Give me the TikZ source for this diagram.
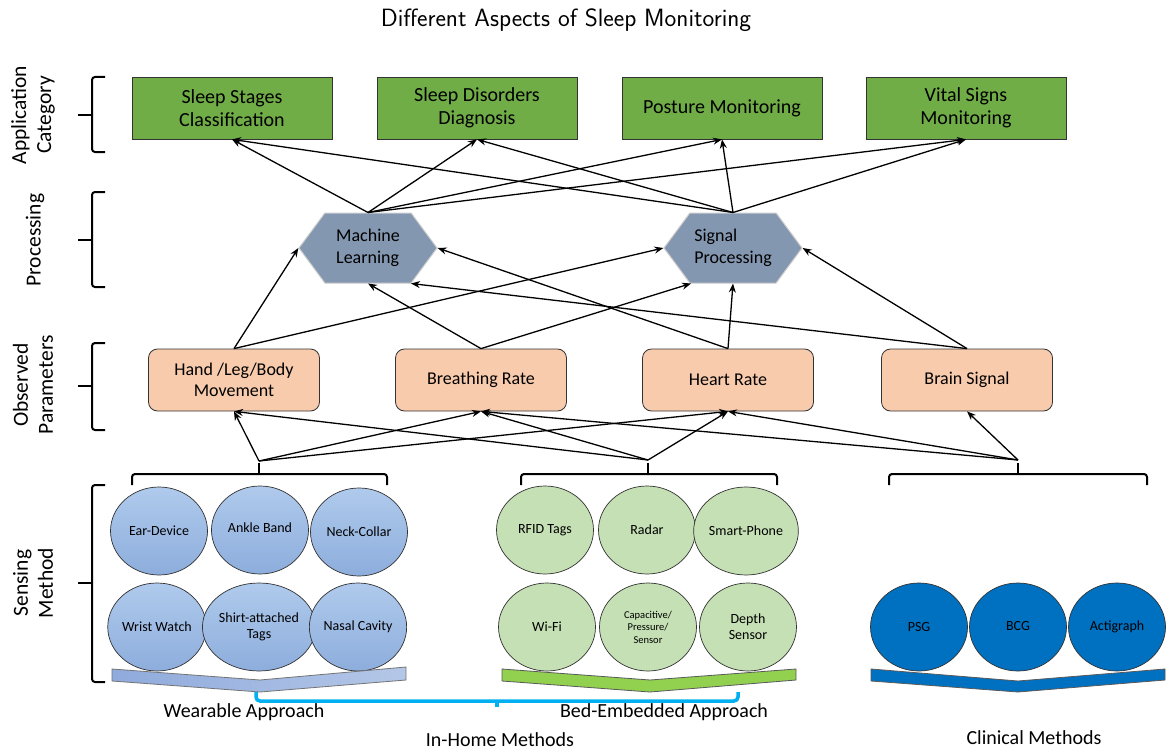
\documentclass[tikz,border=0pt]{standalone}
\usepackage{fontspec}
\setmainfont{Carlito}
\usepackage{xcolor}
\usetikzlibrary{shapes.geometric,shapes.symbols,arrows.meta,calc}

\definecolor{appgreen}{HTML}{70AD47}
\definecolor{paramorange}{HTML}{F8CBAD}
\definecolor{procblue}{HTML}{8497B0}
\definecolor{weartop}{HTML}{AFCAEC}
\definecolor{wearbot}{HTML}{8DADDC}
\definecolor{wearleft}{HTML}{8FAADC}
\definecolor{wearright}{HTML}{B4C7E7}
\definecolor{bedgreen}{HTML}{C5E0B4}
\definecolor{bedbar}{HTML}{92D050}
\definecolor{clinblue}{HTML}{0070C0}
\definecolor{homecyan}{HTML}{00B0F0}

\begin{document}
\begin{tikzpicture}[>={Stealth[length=9pt,width=7pt]},x=1pt,y=-1pt,
  line width=1.3pt,
  app/.style={draw=black!80,line width=0.8pt,fill=appgreen,minimum width=200pt,minimum height=62pt,align=center,font=\fontsize{20}{23.5}\selectfont},
  param/.style={draw=black!80,line width=0.8pt,fill=paramorange,rounded corners=9pt,minimum width=171pt,minimum height=62pt,align=center,font=\fontsize{18}{21.5}\selectfont},
  proc/.style={signal,signal to=west and east,signal pointer angle=107,draw=black!20,line width=1pt,fill=procblue,minimum width=138pt,minimum height=70pt,align=left,font=\fontsize{18}{22}\selectfont},
  sens/.style={ellipse,draw=black!80,line width=0.7pt,minimum width=97pt,minimum height=88pt,inner sep=0pt,align=center,font=\fontsize{14}{16}\selectfont},
  side/.style={rotate=90,align=center,font=\fontsize{21.5}{25}\selectfont},
  brace/.style={line width=2pt,rounded corners=3pt},
  caption/.style={font=\fontsize{20}{24}\selectfont}]

\fill[white] (0,0) rectangle (1170,752);
\useasboundingbox (0,0) rectangle (1170,752);

\node(title) at (566,20)[font=\fontsize{25}{29}\selectfont\sffamily] {Different Aspects of Sleep Monitoring};

% row labels on the left
\node(lapp) at (33,115)[side] {Application\\Category};
\node(lproc) at (35,240)[side] {Processing};
\node(lobs) at (33,385)[side] {Observed\\Parameters};
\node(lsens) at (33,583)[side] {Sensing\\Method};

\draw[brace] (105,77) -- (92,77) -- (92,152) -- (105,152);
\draw[brace] (92,115) -- (78,115);
\draw[brace] (105,192) -- (92,192) -- (92,287) -- (105,287);
\draw[brace] (92,240) -- (78,240);
\draw[brace] (105,343) -- (92,343) -- (92,430) -- (105,430);
\draw[brace] (92,386) -- (78,386);
\draw[brace] (105,485) -- (92,485) -- (92,682) -- (105,682);
\draw[brace] (92,583) -- (78,583);

% application category
\node(ssc) at (232,108)[app] {Sleep Stages\\Classification};
\node(sdd) at (477,108)[app] {Sleep Disorders\\Diagnosis};
\node(pm) at (722,108)[app] {Posture Monitoring};
\node(vs) at (966,108)[app] {Vital Signs\\Monitoring};

% processing
\node(ml) at (368,248)[proc] {Machine\\Learning};
\node(sp) at (733,248)[proc] {Signal\\Processing};

% observed parameters
\node(hand) at (234,380)[param] {Hand /Leg/Body\\Movement};
\node(breath) at (481,380)[param] {Breathing Rate};
\node(heart) at (728,380)[param] {Heart Rate};
\node(brain) at (967,380)[param] {Brain Signal};

% sensing methods
\node(ear) at (159,531)[sens,top color=weartop,bottom color=wearbot] {Ear-Device};
\node(ankle) at (260,530)[sens,top color=weartop,bottom color=wearbot] {\raisebox{4pt}{Ankle Band}};
\node(neck) at (359,532)[sens,top color=weartop,bottom color=wearbot] {Neck-Collar};
\node(wrist) at (157,627)[sens,top color=weartop,bottom color=wearbot] {Wrist Watch};
\node(shirt) at (259,627)[sens,top color=weartop,bottom color=wearbot] {Shirt-attached\\Tags};
\node(nasal) at (358,627)[sens,top color=weartop,bottom color=wearbot] {Nasal Cavity};

\node(rfid) at (545,530)[sens,fill=bedgreen] {RFID Tags};
\node(radar) at (647,530)[sens,fill=bedgreen] {Radar};
\node(phone) at (746,531)[sens,fill=bedgreen] {Smart-Phone};
\node(wifi) at (547,627)[sens,fill=bedgreen] {Wi-Fi};
\node(cap) at (648,627)[sens,fill=bedgreen,font=\fontsize{10.5}{12.5}\selectfont] {Capacitive/\\Pressure/\\Sensor};
\node(depth) at (748,627)[sens,fill=bedgreen] {Depth\\Sensor};

\node(psg) at (919,627)[sens,fill=clinblue] {PSG};
\node(bcg) at (1018,627)[sens,fill=clinblue] {\raisebox{3pt}{BCG}};
\node(acti) at (1117,627)[sens,fill=clinblue] {Actigraph};

% group brackets over the sensors
\draw[brace] (132,485) -- (132,474) -- (387,474) -- (387,485);
\draw[brace] (259,474) -- (259,463);
\draw[brace] (521,485) -- (521,474) -- (777,474) -- (777,485);
\draw[brace] (648,474) -- (648,463);
\draw[brace] (889,485) -- (889,474) -- (1147,474) -- (1147,485);
\draw[brace] (1018,474) -- (1018,463);
\coordinate(wear) at (259,461);
\coordinate(bed) at (648,460);
\coordinate(clin) at (1018,460);

% chevrons under each group
\draw[draw=black!55,line width=0.8pt,left color=wearleft,right color=wearright]
  (112,669) -- (260,680) -- (406,667) -- (406,680) -- (260,692) -- (112,681) -- cycle;
\draw[draw=black!65,line width=0.8pt,fill=bedbar]
  (502,669) -- (650,680) -- (796,669) -- (796,680) -- (650,692) -- (502,681) -- cycle;
\draw[draw=black!65,line width=0.8pt,fill=clinblue]
  (871,669) -- (1018,681) -- (1165,669) -- (1165,680) -- (1018,692) -- (871,681) -- cycle;

\draw[homecyan,line width=3.5pt,rounded corners=4pt] (256,692) -- (256,701) -- (738,701) -- (738,692);
\draw[homecyan,line width=3.5pt] (497,701) -- (497,707);

\node(lwear) at (244,712)[caption] {Wearable Approach};
\node(lbed) at (664,712)[caption] {Bed-Embedded Approach};
\node(lhome) at (500,740)[caption] {In-Home Methods};
\node(lclin) at (1034,738)[caption] {Clinical Methods};

% sensing -> parameters
\draw[->] (wear) -- (hand.south);
\draw[->] (wear) -- (breath.south);
\draw[->] (wear) -- (heart.south);
\draw[->] (bed) -- (hand.south);
\draw[->] (bed) -- (breath.south);
\draw[->] (bed) -- (heart.south);
\draw[->] (clin) -- (breath.south);
\draw[->] (clin) -- (heart.south);
\draw[->] (clin) -- (brain.south);

% parameters -> processing
\draw[->] (hand.north) -- (ml.west);
\draw[->] (hand.north) -- (sp.west);
\draw[->] (breath.north) -- (ml.south);
\draw[->] (breath.north) -- ($(sp.south)+(-42,0)$);
\draw[->] (heart.north) -- (ml.east);
\draw[->] (heart.north) -- (sp.south);
\draw[->] (brain.north) -- ($(ml.south)+(43,0)$);
\draw[->] (brain.north) -- (sp.east);

% processing -> applications
\draw[->] (ml.north) -- (ssc.south);
\draw[->] (ml.north) -- (sdd.south);
\draw[->] (ml.north) -- (pm.south);
\draw[->] (ml.north) -- (vs.south);
\draw[->] (sp.north) -- (ssc.south);
\draw[->] (sp.north) -- (sdd.south);
\draw[->] (sp.north) -- (pm.south);
\draw[->] (sp.north) -- (vs.south);

\end{tikzpicture}
\end{document}
